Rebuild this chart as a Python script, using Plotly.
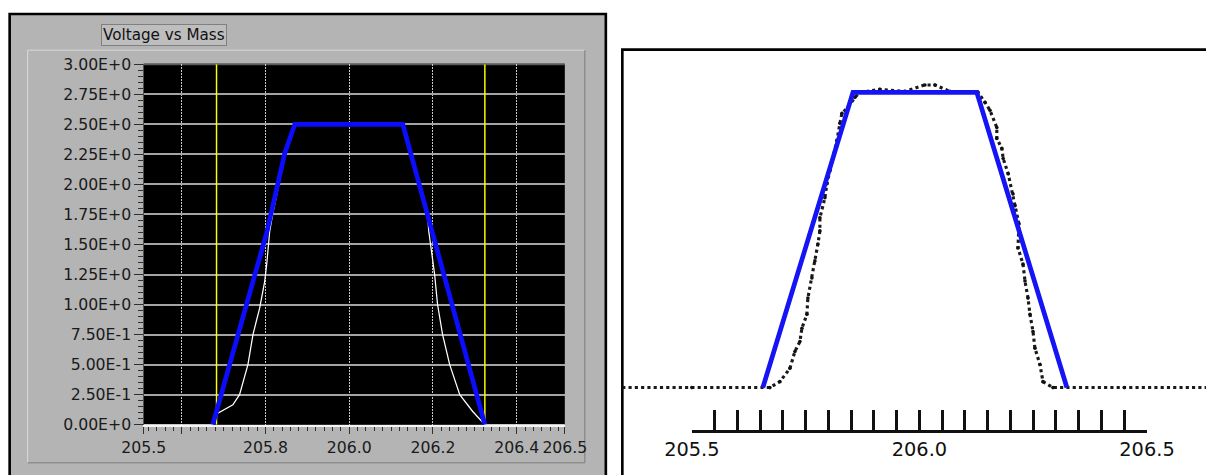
import plotly.graph_objects as go

# The photographed page appears scaled by ~0.955 with an offset of (27.5, 10) px,
# so figure geometry is laid out in that frame (page px = (target px - B) / S).
# The figure is also shifted left by SHIFT px so the panel's left edge can show.
S = 0.955
BX, BY = 27.5, 10.0
SHIFT = 19
W, H = 1234 + SHIFT, 487

# ---------------- Left panel: LabVIEW "Voltage vs Mass" ----------------
left_blue_x = [205.674, 205.803, 205.846, 205.870, 206.128, 206.324]
left_blue_y = [0.0, 1.60, 2.26, 2.50, 2.50, 0.0]

left_white_x = [205.509, 205.674, 205.683, 205.722, 205.738, 205.758, 205.770,
                205.786, 205.798, 205.803, 205.810, 205.817, 205.832, 205.846,
                205.870, 206.128, 206.150, 206.168, 206.187, 206.190, 206.204,
                206.211, 206.223, 206.240, 206.264, 206.295, 206.324, 206.515]
left_white_y = [0.0, 0.0, 0.09, 0.165, 0.25, 0.50, 0.75,
                0.97, 1.19, 1.34, 1.61, 1.75, 2.00, 2.26,
                2.50, 2.50, 2.25, 2.00, 1.75, 1.61, 1.25,
                1.00, 0.75, 0.50, 0.25, 0.11, 0.0, 0.0]

cursor_x = [205.683, 206.324]

left_y_tickvals = [0.0, 0.25, 0.5, 0.75, 1.0, 1.25, 1.5, 1.75, 2.0, 2.25, 2.5, 2.75, 3.0]
left_y_ticktext = ["0.00E+0", "2.50E-1", "5.00E-1", "7.50E-1", "1.00E+0", "1.25E+0",
                   "1.50E+0", "1.75E+0", "2.00E+0", "2.25E+0", "2.50E+0", "2.75E+0",
                   "3.00E+0"]
left_x_tickvals = [205.509, 205.6, 205.8, 206.0, 206.2, 206.4, 206.515]
left_x_ticktext = ["205.5", "", "205.8", "206.0", "206.2", "206.4", "206.5"]

# ---------------- Right panel: scanned measurement ----------------
right_blue_x = [205.656, 205.854, 206.126, 206.324]
right_blue_y = [0.0, 1.0, 1.0, 0.0]

meas_x = [205.347, 205.500, 205.6714, 205.6934, 205.7154, 205.7264, 205.7374, 205.7418,
          205.7527, 205.7549, 205.7637, 205.7703, 205.7769, 205.7813, 205.7813,
          205.7923, 205.7967, 205.8033, 205.8099, 205.8187, 205.8253, 205.8297,
          205.8429, 205.8582, 205.8692, 205.913, 205.968, 206.012, 206.034, 206.067,
          206.122, 206.1286, 206.144, 206.155, 206.170, 206.170, 206.181, 206.184,
          206.195, 206.2055, 206.210, 206.2187, 206.2165, 206.2275, 206.2319,
          206.2385, 206.2429, 206.2495, 206.2538, 206.2648, 206.2714, 206.2934,
          206.450, 206.640]
meas_y = [0.0, 0.0, 0.0, 0.020, 0.065, 0.122, 0.156, 0.201,
          0.248, 0.303, 0.371, 0.429, 0.486, 0.531, 0.575,
          0.643, 0.690, 0.735, 0.779, 0.837, 0.895, 0.929,
          0.949, 0.983, 1.0, 1.01, 1.003, 1.025, 1.025, 1.003,
          1.0, 1.0, 0.966, 0.939, 0.881, 0.844, 0.810, 0.776,
          0.724, 0.656, 0.616, 0.554, 0.473, 0.418, 0.361,
          0.303, 0.248, 0.190, 0.133, 0.078, 0.020, 0.0,
          0.0, 0.0]

ruler_vals = [205.5, 205.55, 205.6, 205.65, 205.7, 205.75, 205.8, 205.85, 205.9,
              205.95, 206.0, 206.05, 206.1, 206.15, 206.2, 206.25, 206.3, 206.35,
              206.4, 206.45, 206.5]
ruler_text = ["205.5", "", "", "", "", "", "", "", "", "", "206.0", "", "", "", "",
              "", "", "", "", "", "206.5"]


def fx(p):
    return ((p - BX) / S + SHIFT) / W


def fy(p):
    return 1 - (p - BY) / S / H


def sz(v):
    return v / S


# right panel scale: 205.5 at px 692, 206.5 at px 1147; baseline px 386, plateau px 92
R_X0, R_XS = 692.0, 455.0
R_Y0, R_YS = 386.0, 294.0
r_left_px, r_right_px = 622.0, BX + S * (W - SHIFT)
r_top_px, r_bot_px = 49.0, BY + S * H

fig = go.Figure()

# left panel traces
cx, cy = [], []
for c in cursor_x:
    cx += [c, c, None]
    cy += [0, 3, None]
fig.add_trace(go.Scatter(x=cx, y=cy, mode="lines", xaxis="x", yaxis="y",
                         line=dict(color="#ffff00", width=sz(1.4)), hoverinfo="skip"))
fig.add_trace(go.Scatter(x=left_white_x, y=left_white_y, mode="lines", xaxis="x", yaxis="y",
                         line=dict(color="#ffffff", width=sz(1.2))))
fig.add_trace(go.Scatter(x=left_blue_x, y=left_blue_y, mode="lines", xaxis="x", yaxis="y",
                         line=dict(color="#0c0cff", width=sz(4.5))))

# right panel traces
fig.add_trace(go.Scatter(x=meas_x, y=meas_y, mode="lines+markers", xaxis="x2", yaxis="y2",
                         line=dict(color="#1a1a1a", width=sz(3), dash="dot"),
                         marker=dict(color="#111111", size=sz(3.5))))
fig.add_trace(go.Scatter(x=right_blue_x, y=right_blue_y, mode="lines", xaxis="x2", yaxis="y2",
                         line=dict(color="#1414f5", width=sz(4.5))))
# ruler axis holder
fig.add_trace(go.Scatter(x=[205.5, 206.5], y=[None, None], mode="lines",
                         xaxis="x3", yaxis="y2", hoverinfo="skip"))

label_font = dict(family="DejaVu Sans", size=sz(15), color="#1a1a1a")

fig.update_layout(
    width=W, height=H,
    margin=dict(l=0, r=0, t=0, b=0),
    paper_bgcolor="#ffffff",
    plot_bgcolor="rgba(0,0,0,0)",
    showlegend=False,
    xaxis=dict(domain=[fx(144), fx(565)], range=[205.509, 206.515], anchor="y",
               tickmode="array", tickvals=left_x_tickvals, ticktext=left_x_ticktext,
               ticks="outside", ticklen=sz(7), tickcolor="#303030", tickwidth=1,
               minor=dict(tickmode="linear", tick0=205.6, dtick=0.02, ticks="outside",
                          ticklen=sz(4), tickcolor="#303030", showgrid=False),
               showgrid=True, gridcolor="#c8c8c8", gridwidth=1, griddash="2px,1px",
               showline=True, linecolor="#f4f4f4", linewidth=sz(2),
               zeroline=False, tickfont=label_font),
    yaxis=dict(domain=[fy(423), fy(64)], range=[0, 3], anchor="x",
               tickmode="array", tickvals=left_y_tickvals, ticktext=left_y_ticktext,
               ticks="outside", ticklen=sz(8), tickcolor="#303030", tickwidth=1,
               minor=dict(tickmode="linear", tick0=0, dtick=0.05, ticks="outside",
                          ticklen=sz(4), tickcolor="#303030", showgrid=False),
               showgrid=True, gridcolor="#a4a4a4", gridwidth=sz(2),
               showline=True, linecolor="#505050", linewidth=1,
               zeroline=False, tickfont=label_font),
    xaxis2=dict(domain=[fx(r_left_px), 1.0],
                range=[205.5 + (r_left_px - R_X0) / R_XS, 205.5 + (r_right_px - R_X0) / R_XS],
                anchor="y2", visible=False),
    yaxis2=dict(domain=[0.0, fy(r_top_px)],
                range=[(R_Y0 - r_bot_px) / R_YS, (R_Y0 - r_top_px) / R_YS],
                anchor="x2", visible=False),
    xaxis3=dict(domain=[fx(692), fx(1147)], range=[205.5, 206.5], anchor="free",
                position=fy(429), tickmode="array", tickvals=ruler_vals,
                ticktext=ruler_text, ticks="inside", ticklen=sz(19), tickwidth=sz(3),
                tickcolor="#111111", showline=True, linecolor="#111111", linewidth=sz(3),
                showgrid=False, zeroline=False,
                tickfont=dict(family="DejaVu Sans", size=sz(18.5), color="#111111")),
    shapes=[
        # left panel grey frame
        dict(type="rect", xref="paper", yref="paper", x0=fx(10), x1=fx(606),
             y0=-0.1, y1=fy(14), fillcolor="#b4b4b4",
             line=dict(color="#000000", width=sz(2.5)), layer="below"),
        dict(type="line", xref="paper", yref="paper", x0=fx(28), x1=fx(585),
             y0=fy(50), y1=fy(50), line=dict(color="#dadada", width=1), layer="below"),
        dict(type="line", xref="paper", yref="paper", x0=fx(28), x1=fx(28),
             y0=fy(461), y1=fy(50), line=dict(color="#dadada", width=1), layer="below"),
        dict(type="line", xref="paper", yref="paper", x0=fx(585), x1=fx(585),
             y0=fy(461), y1=fy(50), line=dict(color="#7c7c7c", width=1), layer="below"),
        dict(type="line", xref="paper", yref="paper", x0=fx(28), x1=fx(585),
             y0=fy(461), y1=fy(461), line=dict(color="#7c7c7c", width=1), layer="below"),
        # black plot area
        dict(type="rect", xref="x domain", yref="y domain", x0=0, x1=1, y0=0, y1=1,
             fillcolor="#000000", line=dict(width=0), layer="below"),
        dict(type="line", xref="x domain", yref="y domain", x0=0, x1=1, y0=1, y1=1,
             line=dict(color="#5a5a5a", width=sz(2)), layer="below"),
        # right panel frame
        dict(type="rect", xref="paper", yref="paper", x0=fx(622.5), x1=1.1,
             y0=-0.1, y1=fy(49.5), fillcolor="#ffffff",
             line=dict(color="#000000", width=sz(2.5)), layer="below"),
    ],
    annotations=[
        dict(text="Voltage vs Mass", xref="paper", yref="paper",
             x=fx(164.5), y=fy(34.5), xanchor="center", yanchor="middle",
             showarrow=False, bgcolor="#bebebe", bordercolor="#808080",
             borderwidth=1, borderpad=1,
             font=dict(family="DejaVu Sans", size=sz(14.5), color="#111111")),
    ],
)

fig.write_html("out.html", config={"displayModeBar": False},
               post_script="document.body.style.margin='0';"
                           "document.body.style.marginLeft='-%dpx';" % SHIFT)
